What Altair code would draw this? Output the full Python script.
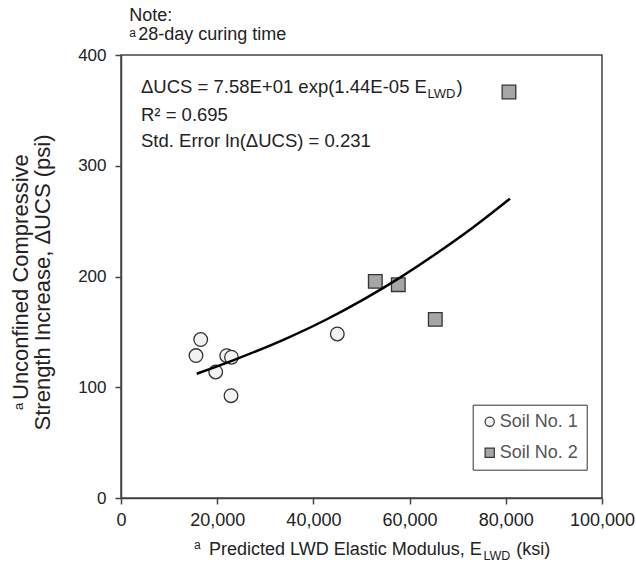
import altair as alt
import pandas as pd

# ---- data ----
series_names = ["Soil No. 1", "Soil No. 2"]
soil1_x = [16570, 15590, 21975, 22970, 19690, 22870, 44970]
soil1_y = [143.1, 128.6, 128.5, 127.1, 113.8, 92.4, 148.1]
soil2_x = [80660, 52870, 57650, 65340]
soil2_y = [366.6, 195.6, 192.6, 161.3]
fit_x = [15740, 23700, 34100, 42400, 50730, 58000, 65640, 73240, 80870]
fit_y = [112.2, 125.0, 143.5, 160.5, 180.0, 199.0, 221.0, 244.5, 270.3]
x_ticks = [0, 20000, 40000, 60000, 80000, 100000]
y_ticks = [0, 100, 200, 300, 400]

pts_df = pd.DataFrame({
    "E": soil1_x + soil2_x,
    "UCS": soil1_y + soil2_y,
    "soil": [series_names[0]] * len(soil1_x) + [series_names[1]] * len(soil2_x),
})
fit_df = pd.DataFrame({"E": fit_x, "UCS": fit_y})
dummy = pd.DataFrame({"k": [0]})

FONT = "Liberation Sans"
TXT = "#222222"
W, H = 481, 443

xs = alt.Scale(domain=[0, 100000], nice=False, zero=True)
ys = alt.Scale(domain=[0, 400], nice=False, zero=True)
x_enc = alt.X("E:Q", scale=xs, axis=alt.Axis(values=x_ticks, format=",d", title=None,
                                             labelFontSize=18, labelPadding=7,
                                             labelFlush=False, labelOverlap=False))
y_enc = alt.Y("UCS:Q", scale=ys, axis=alt.Axis(values=y_ticks, format="d", title=None,
                                               labelFontSize=17, labelPadding=9))

leg = dict(title=None, orient="none", legendX=351.7, legendY=349.7,
           symbolStrokeColor="#333333", symbolStrokeWidth=1.2)

points = alt.Chart(pts_df).mark_point(
    filled=True, opacity=1, strokeWidth=1.3, size=186
).encode(
    x=x_enc,
    y=y_enc,
    shape=alt.Shape("soil:N", scale=alt.Scale(domain=series_names, range=["circle", "square"]),
                    legend=alt.Legend(**leg)),
    fill=alt.Fill("soil:N", scale=alt.Scale(domain=series_names, range=["#f2f2f2", "#a6a6a6"]),
                  legend=alt.Legend(**leg)),
    stroke=alt.Stroke("soil:N", scale=alt.Scale(domain=series_names, range=["#333333", "#333333"]),
                      legend=alt.Legend(**leg)),
)

fit = alt.Chart(fit_df).mark_line(
    color="#000000", strokeWidth=2.5, interpolate="monotone"
).encode(x=x_enc, y=y_enc)


def txt(s, x, y, size, angle=0, align="left"):
    kw = dict(text=s, font=FONT, fontSize=size, color=TXT, align=align, baseline="alphabetic")
    if angle:
        kw["angle"] = angle
    return alt.Chart(dummy).mark_text(**kw).encode(x=alt.value(x), y=alt.value(y))


texts = [
    # note above the plot
    txt("Note:", 8.3, -34.3, 18),
    txt("a", 8.3, -18.5, 12),
    txt("28-day curing time", 17.3, -15.5, 18),
    # equation block
    txt("ΔUCS = 7.58E+01 exp(1.44E-05 E", 20, 38, 18.5),
    txt("LWD", 306.5, 42.5, 13),
    txt(")", 335.6, 38, 18.5),
    txt("R² = 0.695", 20, 65.5, 18.5),
    txt("Std. Error ln(ΔUCS) = 0.231", 20, 92, 18.5),
    # x-axis title
    txt("a", 73, 494, 12),
    txt("Predicted LWD Elastic Modulus, E", 88, 500, 18),
    txt("LWD", 362.5, 504.5, 12.5),
    txt("(ksi)", 395.3, 500, 18),
    # y-axis title (rotated)
    txt("a", 23.3 - 121, 410 - 55, 13, angle=270),
    txt("Unconfined Compressive", 28.3 - 121, 400 - 55, 22, angle=270),
    txt("Strength Increase, ΔUCS (psi)", 50 - 121, 282.5 - 55, 22, angle=270, align="center"),
]

chart = alt.layer(points, fit, *texts).properties(
    width=W, height=H,
    autosize=alt.AutoSizeParams(type="none"),
    padding={"left": 121, "top": 55, "right": 34, "bottom": 65},
    background="white",
).configure_view(
    stroke="#444444", strokeWidth=1.5
).configure_axis(
    labelFont=FONT, labelColor=TXT, domainColor="#444444", tickColor="#444444",
    domainWidth=1.5, tickWidth=1.5, tickSize=6, grid=False,
).configure_legend(
    fillColor="white", strokeColor="#333333", padding=8, rowPadding=13,
    labelFont=FONT, labelFontSize=18, labelColor="#555555", labelOffset=1,
    symbolSize=85, cornerRadius=0,
)

chart.save("out.html", embed_options={"renderer": "svg", "actions": False})
